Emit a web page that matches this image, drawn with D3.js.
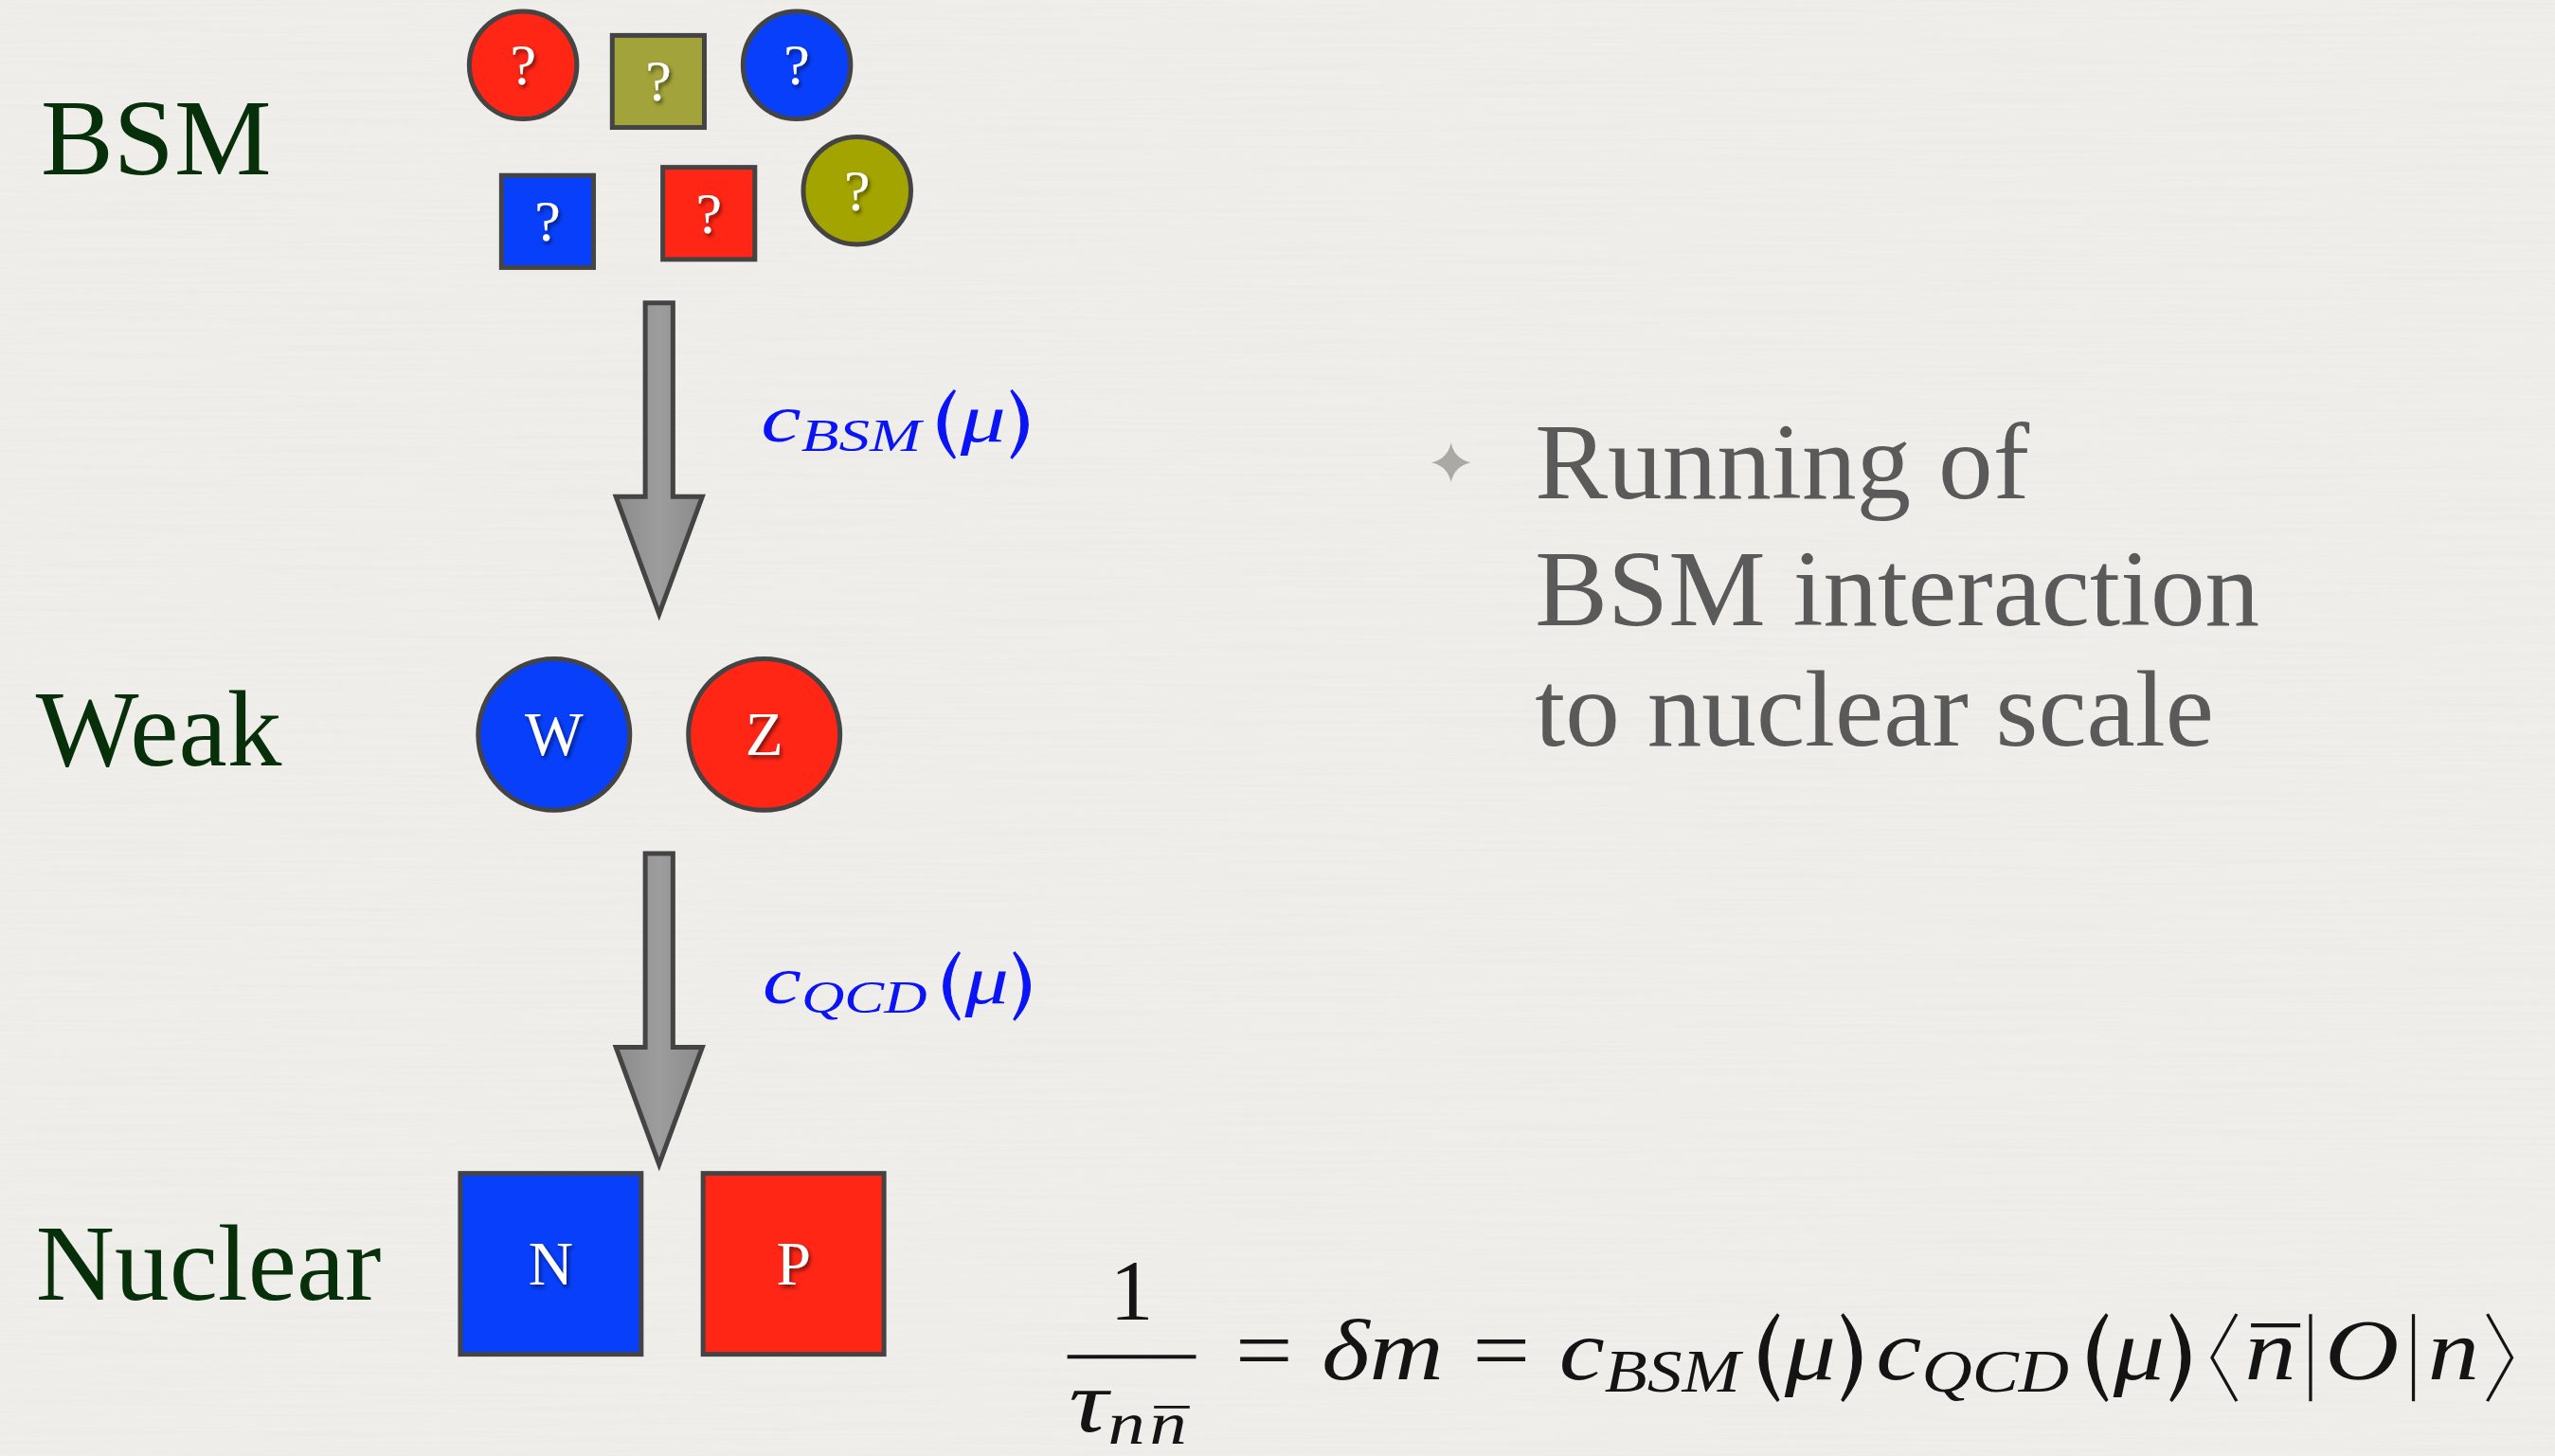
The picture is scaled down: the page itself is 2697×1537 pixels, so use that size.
<!DOCTYPE html>
<html>
<head>
<meta charset="utf-8">
<script src="https://cdn.jsdelivr.net/npm/d3@7"></script>
<style>
  html, body { margin: 0; padding: 0; background: #efeeea; overflow: hidden; }
</style>
</head>
<body>
<div id="slide"></div>
<script>
// positions are in "slide units" (the 1568 x 894 view of the slide)
var levels = ["BSM", "Weak", "Nuclear"];
var levelBaselines = [107, 470, 798];
var levelX = [25, 22, 22];

var bsmParticles = [
  {shape: "circle", kind: "red",   label: "?", x: 321, y: 40},
  {shape: "square", kind: "khaki", label: "?", x: 404, y: 50},
  {shape: "circle", kind: "blue",  label: "?", x: 489, y: 40},
  {shape: "square", kind: "blue",  label: "?", x: 336, y: 136},
  {shape: "square", kind: "red",   label: "?", x: 435, y: 131},
  {shape: "circle", kind: "olive", label: "?", x: 526, y: 117}
];
var weakParticles = [
  {shape: "circle", kind: "blue", label: "W", x: 340, y: 451},
  {shape: "circle", kind: "red",  label: "Z", x: 469, y: 451}
];
var nuclearParticles = [
  {shape: "square", kind: "blue", label: "N", x: 338, y: 776},
  {shape: "square", kind: "red",  label: "P", x: 487, y: 776}
];

// running arrows: shaft top, head base, tip
var arrowSteps = [
  {top: 186, headBase: 305, tip: 377, coupling: "BSM", labelX: 467, labelBase: 271},
  {top: 524, headBase: 643, tip: 715, coupling: "QCD", labelX: 468, labelBase: 616}
];

var bulletLines = ["Running of", "BSM interaction", "to nuclear scale"];
var bulletBaselines = [306, 384, 457.5];

var formulaPieces = [
  {t: "=", rm: true}, {gap: 0.28},
  {t: "δ"}, {t: "m"}, {gap: 0.28},
  {t: "=", rm: true}, {gap: 0.28},
  {t: "c"}, {t: "BSM", sub: true},
  {glyph: "lparen"}, {t: "μ"}, {glyph: "rparen"},
  {t: "c"}, {t: "QCD", sub: true},
  {glyph: "lparen"}, {t: "μ"}, {glyph: "rparen"},
  {glyph: "langle"}, {t: "n", bar: true}, {glyph: "vbar"}, {t: "O"}, {glyph: "vbar"}, {t: "n"}, {glyph: "rangle"}
];
var denominatorPieces = [{t: "τ"}, {t: "n", sub: true}, {t: "n", sub: true, bar: true}];

var W = 2697, H = 1537;
var x = d3.scaleLinear().domain([0, 1568]).range([0, W]);
var y = d3.scaleLinear().domain([0, 894]).range([0, H]);

var colour = d3.scaleOrdinal()
  .domain(["red", "blue", "olive", "khaki"])
  .range(["#ff2616", "#083ffa", "#a4a400", "#a2a33a"]);

// mark sizes by level (slide units)
var markSize = {BSM: {circle: 66, square: 56.5}, Weak: {circle: 93}, Nuclear: {square: 111}};

var serif = "'Liberation Serif', 'Times New Roman', serif";

var svg = d3.select("#slide").append("svg")
    .attr("width", W)
    .attr("height", H);

var defs = svg.append("defs");

// paper texture
var paper = defs.append("filter").attr("id", "paper")
    .attr("x", 0).attr("y", 0).attr("width", "100%").attr("height", "100%");
paper.append("feTurbulence")
    .attr("type", "fractalNoise")
    .attr("baseFrequency", "0.004 0.28")
    .attr("numOctaves", 2)
    .attr("seed", 7);
paper.append("feColorMatrix")
    .attr("type", "matrix")
    .attr("values", "0 0 0 0 0.45  0 0 0 0 0.45  0 0 0 0 0.42  1 0 0 0 -0.4");

var shadow = defs.append("filter").attr("id", "shadow")
    .attr("x", "-30%").attr("y", "-30%").attr("width", "160%").attr("height", "160%");
shadow.append("feDropShadow")
    .attr("dx", 2).attr("dy", 3).attr("stdDeviation", 2)
    .attr("flood-color", "#000").attr("flood-opacity", 0.55);

var grad = defs.append("linearGradient").attr("id", "arrowFill")
    .attr("x1", "0%").attr("x2", "100%").attr("y1", "0%").attr("y2", "0%");
grad.append("stop").attr("offset", "0%").attr("stop-color", "#8b8b8b");
grad.append("stop").attr("offset", "50%").attr("stop-color", "#9d9d9d");
grad.append("stop").attr("offset", "100%").attr("stop-color", "#8a8a8a");

svg.append("rect").attr("width", W).attr("height", H).attr("fill", "#efeeea");
svg.append("rect").attr("width", W).attr("height", H)
    .attr("filter", "url(#paper)")
    .attr("opacity", 0.12);

// level labels
svg.selectAll(".level")
    .data(levels)
  .enter().append("text")
    .attr("class", "level")
    .attr("x", function(d, i) { return x(levelX[i]); })
    .attr("y", function(d, i) { return y(levelBaselines[i]); })
    .style("font-family", serif)
    .style("font-size", x(67) + "px")
    .style("fill", "#07300a")
    .text(function(d) { return d; });

// particles
function drawParticles(data, level) {
  var g = svg.selectAll(".p-" + level)
      .data(data)
    .enter().append("g")
      .attr("class", "p-" + level)
      .attr("transform", function(d) { return "translate(" + x(d.x) + "," + y(d.y) + ")"; });

  g.each(function(d) {
    var s = x(markSize[level][d.shape]);
    var node = d3.select(this);
    if (d.shape === "circle") {
      node.append("circle").attr("r", s / 2);
    } else {
      node.append("rect").attr("x", -s / 2).attr("y", -s / 2).attr("width", s).attr("height", s);
    }
  });
  g.selectAll("circle, rect")
      .attr("fill", function(d) { return colour(d.kind); })
      .attr("stroke", "#444")
      .attr("stroke-width", 5);

  var fsz = x(level === "BSM" ? 36 : 38);
  g.append("text")
      .attr("text-anchor", "middle")
      .attr("y", fsz * 0.33)
      .attr("filter", "url(#shadow)")
      .style("font-family", serif)
      .style("font-size", fsz + "px")
      .style("fill", "#fff")
      .text(function(d) { return d.label; });
}
drawParticles(bsmParticles, "BSM");
drawParticles(weakParticles, "Weak");
drawParticles(nuclearParticles, "Nuclear");

// arrows
var cxArrow = 404.5, shaftHalf = 8.5, headHalf = 26.5;
svg.selectAll(".arrow")
    .data(arrowSteps)
  .enter().append("path")
    .attr("class", "arrow")
    .attr("d", function(d) {
      return "M" + x(cxArrow - shaftHalf) + "," + y(d.top) +
        "L" + x(cxArrow + shaftHalf) + "," + y(d.top) +
        "L" + x(cxArrow + shaftHalf) + "," + y(d.headBase) +
        "L" + x(cxArrow + headHalf) + "," + y(d.headBase) +
        "L" + x(cxArrow) + "," + y(d.tip) +
        "L" + x(cxArrow - headHalf) + "," + y(d.headBase) +
        "L" + x(cxArrow - shaftHalf) + "," + y(d.headBase) + "Z";
    })
    .attr("fill", "url(#arrowFill)")
    .attr("stroke", "#444")
    .attr("stroke-width", 5)
    .attr("stroke-linejoin", "miter");

// simple math typesetting: pieces laid out left to right
function glyphPath(kind, cx, s) {
  function p(a, b) { return (cx + a * s) + "," + (b * s); }
  if (kind === "lparen")
    return "M" + p(0.32, -0.75) + "Q" + p(-0.03, -0.25) + " " + p(0.32, 0.25) +
      "L" + p(0.335, 0.235) + "Q" + p(0.11, -0.25) + " " + p(0.335, -0.735) + "Z";
  if (kind === "rparen")
    return "M" + p(0.07, -0.75) + "Q" + p(0.42, -0.25) + " " + p(0.07, 0.25) +
      "L" + p(0.055, 0.235) + "Q" + p(0.28, -0.25) + " " + p(0.055, -0.735) + "Z";
  if (kind === "langle")
    return "M" + p(0.31, -0.75) + "L" + p(0.07, -0.25) + "L" + p(0.31, 0.25);
  if (kind === "rangle")
    return "M" + p(0.08, -0.75) + "L" + p(0.32, -0.25) + "L" + p(0.08, 0.25);
  return "M" + p(0.14, -0.75) + "L" + p(0.14, 0.25);
}
var glyphWidth = {lparen: 0.39, rparen: 0.39, langle: 0.39, rangle: 0.39, vbar: 0.28};

function mathRow(g, pieces, size, col) {
  var cx = 0;
  pieces.forEach(function(p) {
    if (p.gap) { cx += p.gap * size; return; }
    if (p.glyph) {
      var filled = p.glyph === "lparen" || p.glyph === "rparen";
      g.append("path").attr("d", glyphPath(p.glyph, cx, size))
          .attr("fill", filled ? col : "none")
          .attr("stroke", col)
          .attr("stroke-width", filled ? 0.012 * size : 0.03 * size);
      cx += glyphWidth[p.glyph] * size;
      return;
    }
    var s = size * (p.sub ? 0.68 : 1);
    var base = p.sub ? size * 0.14 : 0;
    var t = g.append("text")
        .attr("x", cx)
        .attr("y", base)
        .style("font-family", serif)
        .style("font-style", p.rm ? "normal" : "italic")
        .style("font-size", s + "px")
        .style("fill", col)
        .text(p.t);
    var w = t.node().getComputedTextLength();
    if (p.bar) {
      g.append("line")
          .attr("x1", cx + 0.12 * w).attr("x2", cx + w + 0.04 * s)
          .attr("y1", base - 0.62 * s).attr("y2", base - 0.62 * s)
          .attr("stroke", col).attr("stroke-width", 0.045 * s);
    }
    cx += w + (p.sub ? 0.06 * s : 0);
  });
  return cx;
}

function fitRow(pieces, size, col, x0, x1, baseline) {
  var g = svg.append("g");
  var w = mathRow(g, pieces, x(size), col);
  var sx = (x(x1) - x(x0)) / w;
  g.attr("transform", "translate(" + x(x0) + "," + y(baseline) + ") scale(" + sx + ",1)");
  return g;
}

arrowSteps.forEach(function(d) {
  fitRow([{t: "c"}, {t: d.coupling, sub: true},
          {glyph: "lparen"}, {t: "μ"}, {glyph: "rparen"}],
         42, "#0a14f5", d.labelX, d.labelX + 172, d.labelBase);
});

// bullet
var star = 12;
svg.append("path")
    .attr("transform", "translate(" + x(890.5) + "," + y(284) + ")")
    .attr("d", (function() {
      var r = x(star), c = r * 0.18;
      return "M0," + (-r) + "Q" + c + "," + (-c) + " " + r + ",0" +
        "Q" + c + "," + c + " 0," + r +
        "Q" + (-c) + "," + c + " " + (-r) + ",0" +
        "Q" + (-c) + "," + (-c) + " 0," + (-r) + "Z";
    })())
    .attr("fill", "#aba9a4");

svg.selectAll(".bullet")
    .data(bulletLines)
  .enter().append("text")
    .attr("class", "bullet")
    .attr("x", x(942))
    .attr("y", function(d, i) { return y(bulletBaselines[i]); })
    .style("font-family", serif)
    .style("font-size", x(67) + "px")
    .style("fill", "#5a5a5a")
    .text(function(d) { return d; });

// formula
var ink = "#141414";
svg.append("text")
    .attr("x", x(694.5))
    .attr("y", y(810))
    .attr("text-anchor", "middle")
    .style("font-family", serif)
    .style("font-size", x(53.5) + "px")
    .style("fill", ink)
    .text("1");
svg.append("line")
    .attr("x1", x(655)).attr("x2", x(734))
    .attr("y1", y(833)).attr("y2", y(833))
    .attr("stroke", ink).attr("stroke-width", 4);
fitRow(denominatorPieces, 53.5, ink, 656, 731, 879);
fitRow(formulaPieces, 53.5, ink, 758, 1546, 847);
</script>
</body>
</html>
